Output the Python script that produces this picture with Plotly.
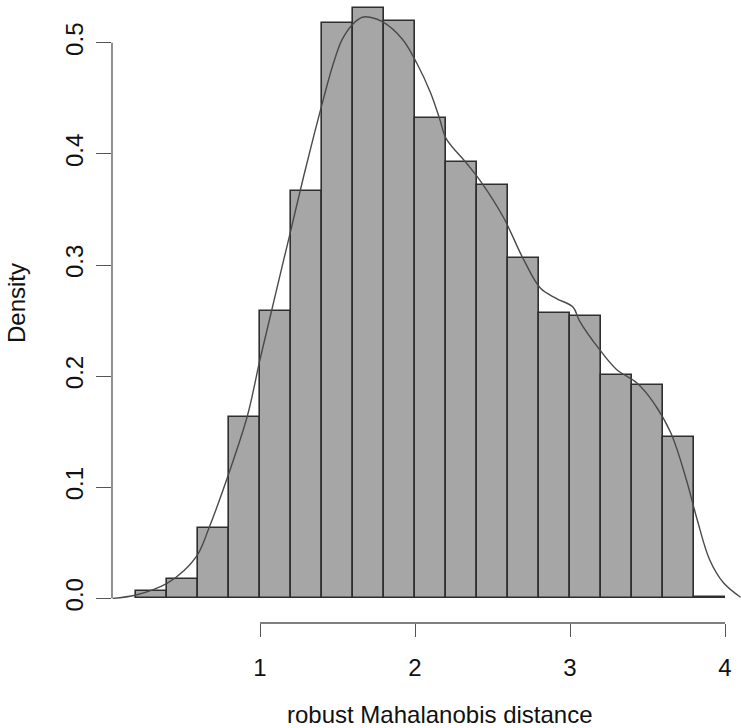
import plotly.graph_objects as go

# Histogram (density scale), bins of width 0.2 from 0.2 to 4.0
bin_left = [0.2, 0.4, 0.6, 0.8, 1.0, 1.2, 1.4, 1.6, 1.8, 2.0,
            2.2, 2.4, 2.6, 2.8, 3.0, 3.2, 3.4, 3.6, 3.8]
bin_density = [0.007, 0.017, 0.063, 0.163, 0.259, 0.367, 0.518, 0.531, 0.520, 0.432,
               0.393, 0.372, 0.306, 0.257, 0.254, 0.201, 0.192, 0.145, 0.001]
bin_width = 0.2

# Kernel density curve
kde_x = [0.05, 0.2, 0.4, 0.51, 0.6, 0.67, 0.8, 0.92, 1.0, 1.08, 1.15, 1.2, 1.28, 1.35,
         1.41, 1.47, 1.53, 1.6, 1.66, 1.71, 1.79, 1.92, 2.01, 2.10, 2.16, 2.20, 2.33,
         2.42, 2.57, 2.70, 2.81, 2.91, 3.02, 3.06, 3.19, 3.30, 3.43, 3.54, 3.65, 3.75,
         3.82, 3.90, 3.99, 4.10]
kde_y = [0.000, 0.003, 0.0135, 0.025, 0.040, 0.063, 0.113, 0.165, 0.215, 0.262, 0.303,
         0.332, 0.379, 0.418, 0.450, 0.480, 0.503, 0.517, 0.523, 0.523, 0.519, 0.503,
         0.482, 0.455, 0.431, 0.414, 0.392, 0.376, 0.343, 0.305, 0.279, 0.270, 0.262,
         0.250, 0.224, 0.206, 0.194, 0.176, 0.149, 0.107, 0.071, 0.035, 0.014, 0.001]

x_ticks = [1, 2, 3, 4]
y_ticks = [0.0, 0.1, 0.2, 0.3, 0.4, 0.5]
y_tick_labels = ["0.0", "0.1", "0.2", "0.3", "0.4", "0.5"]
x_title = "robust Mahalanobis distance"
y_title = "Density"

FONT = "Liberation Sans, Arial, Helvetica, sans-serif"
AX = "#555555"

fig = go.Figure()
fig.add_trace(go.Bar(
    x=[b + bin_width / 2 for b in bin_left], y=bin_density, width=bin_width,
    marker=dict(color="#a6a6a6", line=dict(color="#2e2e2e", width=1.6)),
    showlegend=False, hoverinfo="skip"))
fig.add_trace(go.Scatter(
    x=kde_x, y=kde_y, mode="lines", line=dict(color="#4a4a4a", width=1.4, shape="spline"),
    showlegend=False, hoverinfo="skip"))

# R-style axis lines that span only the tick range
fig.add_shape(type="line", xref="x", yref="paper", x0=x_ticks[0], x1=x_ticks[-1], y0=0, y1=0,
              line=dict(color=AX, width=1.3))
fig.add_shape(type="line", xref="paper", yref="y", x0=0, x1=0, y0=y_ticks[0], y1=y_ticks[-1],
              line=dict(color=AX, width=1.3))

fig.update_layout(
    width=741, height=728,
    margin=dict(l=112, r=0, t=0, b=105),
    paper_bgcolor="white", plot_bgcolor="white",
    bargap=0,
    font=dict(family=FONT, size=24, color="#111111"),
    xaxis=dict(range=[0.045, 4.103], tickvals=x_ticks, ticktext=[str(v) for v in x_ticks],
               ticks="outside", ticklen=13, tickwidth=1.3, tickcolor=AX,
               showline=False, showgrid=False, zeroline=False,
               tickfont=dict(size=24), ticklabelstandoff=10),
    yaxis=dict(range=[-0.0222, 0.5385], tickvals=y_ticks, ticktext=y_tick_labels,
               ticks="outside", ticklen=15, tickwidth=1.3, tickcolor=AX, tickangle=-90,
               showline=False, showgrid=False, zeroline=False,
               tickfont=dict(size=24), ticklabelstandoff=3),
    annotations=[
        dict(text=x_title, xref="paper", yref="paper", x=(440 - 112) / 629, y=(623 - 714) / 623,
             xanchor="center", yanchor="middle", showarrow=False, font=dict(size=24)),
        dict(text=y_title, xref="paper", yref="paper", x=(16 - 112) / 629, y=(623 - 303) / 623,
             xanchor="center", yanchor="middle", textangle=-90, showarrow=False, font=dict(size=24)),
    ],
)

fig.write_html("out.html")
